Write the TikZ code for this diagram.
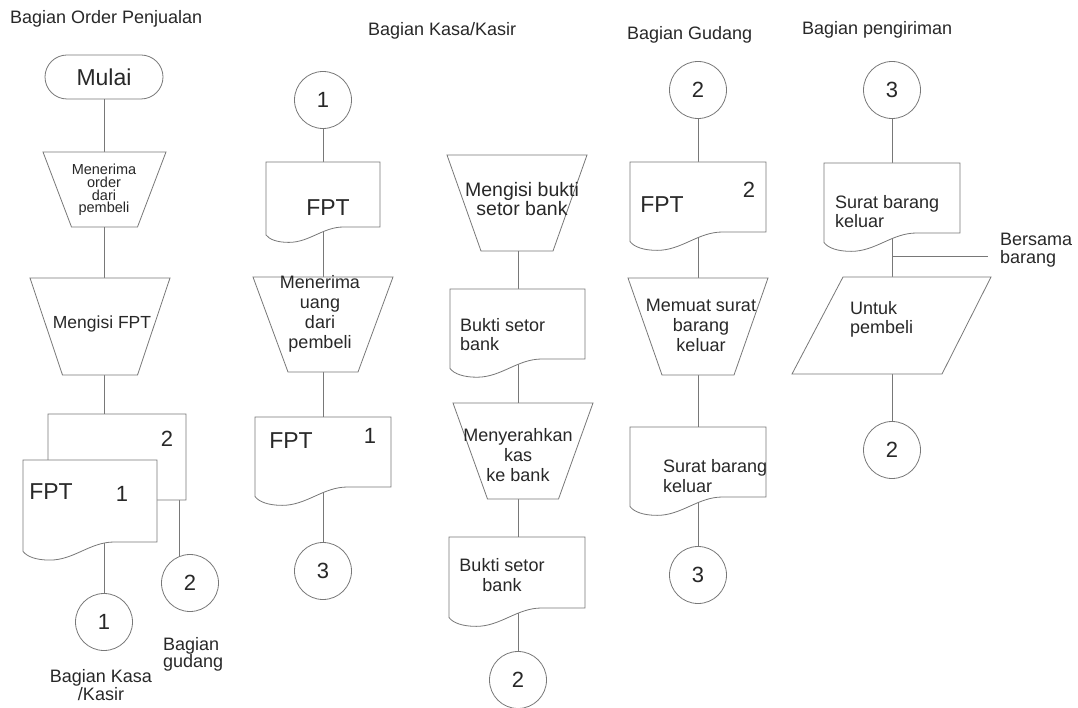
\documentclass[tikz,border=0pt]{standalone}
\usepackage{fontspec}
\setmainfont{Liberation Sans}
\usetikzlibrary{shapes.misc,backgrounds}
\definecolor{lc}{RGB}{120,120,120}
\definecolor{tc}{RGB}{40,40,40}
\newcommand\fsz[2]{\fontsize{#1}{#2}\selectfont}
\tikzset{
  ln/.style={draw=lc, line width=0.8pt},
  box/.style={draw=none, inner sep=0pt, outer sep=0pt, minimum width=0pt},
  txt/.style={text=tc, inner sep=0pt, outer sep=0pt, font=\fsz{18}{20}},
  conn/.style={draw=lc, line width=0.8pt},
  cnode/.style={circle, draw=lc, line width=0.8pt, fill=white, inner sep=0pt,
    minimum size=57pt, text=tc, font=\fsz{22}{24}},
  term/.style={rounded rectangle, draw=lc, line width=0.8pt, fill=white, inner sep=0pt,
    minimum width=118pt, minimum height=44pt, text=tc, font=\fsz{23}{25}},
}
% document shape: name, xl, yt, xr, yb, connector x
\newcommand\docshp[6]{%
  \pgfmathsetmacro\dw{#4-#2}%
  \pgfmathsetmacro\dh{#5-#3}%
  \draw[ln, fill=white] (#2,#3) -- (#4,#3) -- (#4,#5) -- ({#2+0.68*\dw},#5)
    .. controls ({#2+0.5*\dw},#5) and ({#2+0.38*\dw},{#5+0.135*\dw}) .. ({#2+0.2*\dw},{#5+0.135*\dw})
    .. controls ({#2+0.1*\dw},{#5+0.135*\dw}) and ({#2+0.03*\dw},{#5+0.11*\dw}) .. (#2,{#5+0.07*\dw}) -- cycle;
  \node[box, minimum height=\dh pt] (#1) at (#6,{(#3+#5)/2}) {};
}
% trapezoid (manual operation): name, cx, yt, yb, top width, bottom width, connector x
\newcommand\trapshp[7]{%
  \pgfmathsetmacro\dh{#4-#3}%
  \draw[ln, fill=white] ({#2-#5/2},#3) -- ({#2+#5/2},#3) -- ({#2+#6/2},#4) -- ({#2-#6/2},#4) -- cycle;
  \node[box, minimum height=\dh pt] (#1) at (#7,{(#3+#4)/2}) {};
}
\begin{document}
\begin{tikzpicture}[x=1pt,y=-1pt]
\useasboundingbox (0,0) rectangle (1078,708);

% ---------- Column 1: Bagian Order Penjualan ----------
\node[txt, anchor=base west] (h1) at (10,24) {Bagian Order Penjualan};
\node[term] (mulai) at (104,77) {Mulai};
\trapshp{tr1}{104.5}{152}{227}{123}{66}{104}
\node[txt, font=\fsz{14.5}{12.8}, align=center] (tr1t) at (104,190) {Menerima\\order\\dari\\pembeli};
\trapshp{tr2}{100}{278}{375}{140}{75}{104}
\node[txt, font=\fsz{17.5}{20}] (tr2t) at (102,323.5) {Mengisi FPT};
\docshp{d1b}{48}{414}{186}{500}{104}
\node[txt, font=\fsz{22}{24}] (d1bn) at (167,439) {2};
\docshp{d1f}{23}{460}{157}{542}{104}
\node[txt, font=\fsz{23}{25}] (d1ft) at (51,492) {FPT};
\node[txt, font=\fsz{22}{24}] (d1fn) at (122,494) {1};
\coordinate (bk2) at (179,500);
\node[cnode] (c11) at (104,622) {1};
\node[cnode] (c12) at (190,583) {2};
\node[txt, font=\fsz{18}{17}, align=left, anchor=west] (l12) at (163,654) {Bagian\\gudang};
\node[txt, font=\fsz{18}{18.5}, align=center] (l11) at (101,685) {Bagian Kasa\\/Kasir};

% ---------- Column 2: Bagian Kasa/Kasir ----------
\node[txt, anchor=base west] (h2) at (368,36) {Bagian Kasa/Kasir};
\node[cnode] (c21) at (323,100) {1};
\docshp{d2a}{266}{162}{380}{227}{323}
\node[txt, font=\fsz{23}{25}] (d2at) at (328,208) {FPT};
\trapshp{tr2a}{323}{277}{372}{140}{70}{323}
\node[txt, align=center] (tr2at) at (320,313.5) {Menerima\\uang\\dari\\pembeli};
\docshp{d2b}{255}{417}{391}{487}{323}
\node[txt, font=\fsz{23}{25}] (d2bt) at (291,441) {FPT};
\node[txt, font=\fsz{22}{24}] (d2bn) at (370,436) {1};
\node[cnode] (c23) at (323,571) {3};

% ---------- Column 3 ----------
\trapshp{tr3a}{517}{155}{251}{140}{72}{518}
\node[txt, font=\fsz{19.5}{17}, align=center] (tr3at) at (522,199) {Mengisi bukti\\setor bank};
\docshp{d3a}{450}{289}{585}{359}{518}
\node[txt, font=\fsz{18}{18.5}, align=left, anchor=west] (d3at) at (460,334.5) {Bukti setor\\bank};
\trapshp{tr3b}{523}{403}{499}{140}{71}{518}
\node[txt, align=center] (tr3bt) at (518,455.5) {Menyerahkan\\kas\\ke bank};
\docshp{d3b}{449}{537}{585}{608}{518}
\node[txt, align=center] (d3bt) at (502,575.5) {Bukti setor\\bank};
\node[cnode] (c33) at (518,680) {2};

% ---------- Column 4: Bagian Gudang ----------
\node[txt, anchor=base west] (h4) at (627,40) {Bagian Gudang};
\node[cnode] (c41) at (698,90) {2};
\docshp{d4a}{630}{162}{766}{232}{698}
\node[txt, font=\fsz{23}{25}] (d4at) at (662,205) {FPT};
\node[txt, font=\fsz{22}{24}] (d4an) at (749,190) {2};
\trapshp{tr4}{698}{278}{375}{140}{72}{698}
\node[txt, align=center] (tr4t) at (701,325.5) {Memuat surat\\barang\\keluar};
\docshp{d4b}{630}{427}{766}{497}{698}
\node[txt, align=left, anchor=west] (d4bt) at (663,476.5) {Surat barang\\keluar};
\node[cnode] (c43) at (698,575) {3};

% ---------- Column 5: Bagian pengiriman ----------
\node[txt, anchor=base west] (h5) at (802,35) {Bagian pengiriman};
\node[cnode] (c51) at (892,90) {3};
\docshp{d5}{824}{163}{960}{233}{892}
\node[txt, font=\fsz{18}{19}, align=left, anchor=west] (d5t) at (835,211.5) {Surat barang\\keluar};
\coordinate (brA) at (892,256);
\coordinate (brB) at (988,256);
\node[txt, font=\fsz{18}{18}, align=left, anchor=west] (brt) at (1000,250) {Bersama\\barang};
\draw[ln, fill=white] (843,277) -- (991,277) -- (942,374) -- (792,374) -- cycle;
\node[box, minimum height=97pt] (p5) at (892,325.5) {};
\node[txt, font=\fsz{18}{18.5}, align=left, anchor=west] (p5t) at (850,319.5) {Untuk\\pembeli};
\node[cnode] (c53) at (892,450) {2};

% ---------- Connectors (behind the white-filled shapes) ----------
\begin{pgfonlayer}{background}
\fill[white] (0,0) rectangle (1078,708);
\draw[conn] (mulai.south) -- (tr1.north);
\draw[conn] (tr1.south) -- (tr2.north);
\draw[conn] (tr2.south) -- (d1b.north);
\draw[conn] (d1f.south) -- (c11.north);
\draw[conn] (bk2) -- (bk2 |- c12.center);
\draw[conn] (c21.south) -- (d2a.north);
\draw[conn] (d2a.south) -- (tr2a.north);
\draw[conn] (tr2a.south) -- (d2b.north);
\draw[conn] (d2b.south) -- (c23.north);
\draw[conn] (tr3a.south) -- (d3a.north);
\draw[conn] (d3a.south) -- (tr3b.north);
\draw[conn] (tr3b.south) -- (d3b.north);
\draw[conn] (d3b.south) -- (c33.north);
\draw[conn] (c41.south) -- (d4a.north);
\draw[conn] (d4a.south) -- (tr4.north);
\draw[conn] (tr4.south) -- (d4b.north);
\draw[conn] (d4b.south) -- (c43.north);
\draw[conn] (c51.south) -- (d5.north);
\draw[conn] (d5.south) -- (p5.north);
\draw[conn] (brA) -- (brB);
\draw[conn] (p5.south) -- (c53.north);
\end{pgfonlayer}
\end{tikzpicture}
\end{document}
